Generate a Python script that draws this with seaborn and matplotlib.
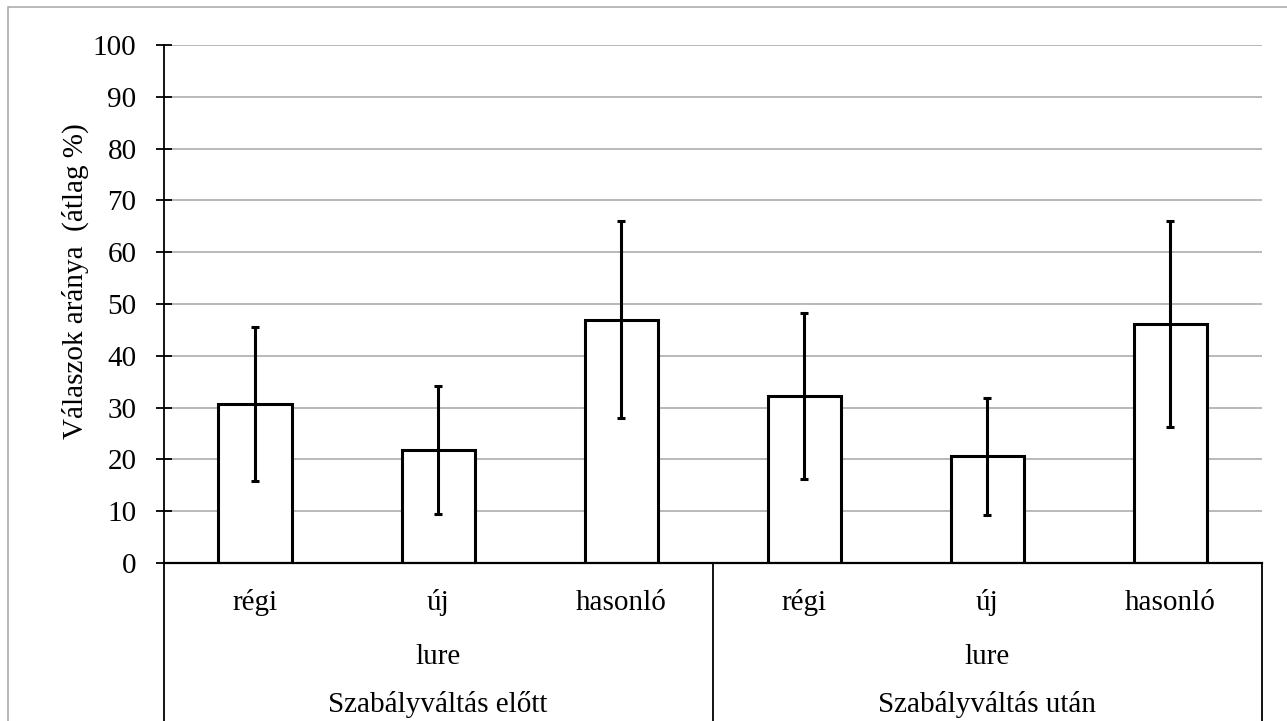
import matplotlib
matplotlib.use("Agg")
import matplotlib.pyplot as plt
import matplotlib.transforms as mtransforms
from matplotlib.patches import Rectangle
import seaborn as sns
import pandas as pd

# Chart data
phases = ["Szabályváltás előtt", "Szabályváltás után"]
lure_types = ["régi", "új", "hasonló"]
group_label = "lure"
means_before = [30.7, 21.8, 47.0]
means_after = [32.2, 20.6, 46.1]
sd_before = [14.8, 12.4, 19.0]
sd_after = [16.0, 11.3, 19.9]
y_label = "Válaszok aránya  (átlag %)"
y_ticks = list(range(0, 101, 10))

rows = []
for phase, means, sds in [(phases[0], means_before, sd_before), (phases[1], means_after, sd_after)]:
    for lure, m, s in zip(lure_types, means, sds):
        rows.append({"phase": phase, "lure": lure, "key": f"{phase} | {lure}", "mean": m, "sd": s})
df = pd.DataFrame(rows)
order = list(df["key"])

sns.set_theme(style="white")
plt.rcParams["font.family"] = ["Liberation Serif", "DejaVu Serif"]

W, H = 1287, 721
fig = plt.figure(figsize=(W / 100, H / 100), dpi=100)
fig.patch.set_facecolor("white")

# Outer frame of the chart area
fig.patches.append(Rectangle((8 / W, -0.2), 1.2, (H - 7) / H + 0.2, transform=fig.transFigure,
                             fill=False, edgecolor="#a6a6a6", linewidth=1.1, zorder=0))

ax_left, ax_right, ax_top, ax_bottom = 163.5, 1262, 45, 563
ax_h_px = ax_bottom - ax_top
ax = fig.add_axes([ax_left / W, (H - ax_bottom) / H, (ax_right - ax_left) / W, ax_h_px / H])

sns.barplot(data=df, x="key", y="mean", order=order, errorbar=None, width=0.4,
            color="white", edgecolor="black", linewidth=2.2, saturation=1, ax=ax, zorder=3)

xpos = list(range(len(order)))
ax.errorbar(xpos, df["mean"], yerr=df["sd"], fmt="none", ecolor="black",
            elinewidth=2.2, capsize=2.9, capthick=2.2, zorder=4)

ax.set_ylim(0, 100)
ax.set_xlim(-0.5, len(order) - 0.5)
ax.set_yticks(y_ticks)
ax.set_yticklabels([str(t) for t in y_ticks])
ax.tick_params(axis="y", direction="inout", length=12.2, width=1.3, pad=13.3,
               labelsize=21, colors="black", left=True)
ax.tick_params(axis="x", length=0, labelbottom=False)
ax.set_xlabel("")
ax.set_ylabel("")
ax.yaxis.grid(True, color="#a6a6a6", linewidth=1.1)
ax.set_axisbelow(True)
for side in ["top", "right"]:
    ax.spines[side].set_visible(False)
ax.spines["left"].set_color("black")
ax.spines["left"].set_linewidth(1.3)
ax.spines["bottom"].set_color("black")
ax.spines["bottom"].set_linewidth(1.6)
ax.spines["bottom"].set_zorder(5)

# Multi-level category axis below the plot
trans = mtransforms.blended_transform_factory(ax.transData, ax.transAxes)
def frac(px):
    return -px / ax_h_px

line_bottom = frac(H - ax_bottom + 5)
for xb in [-0.5, 2.5, len(order) - 0.5]:
    ax.plot([xb, xb], [0, line_bottom], color="black", linewidth=1.3,
            transform=trans, clip_on=False, zorder=5)

for i, row in df.iterrows():
    ax.text(i, frac(610 - ax_bottom), row["lure"], transform=trans, ha="center",
            va="baseline", fontsize=21, color="black")
for g, phase in enumerate(phases):
    center = g * 3 + 1
    ax.text(center, frac(664 - ax_bottom), group_label, transform=trans, ha="center",
            va="baseline", fontsize=21, color="black")
    ax.text(center, frac(712 - ax_bottom), phase, transform=trans, ha="center",
            va="baseline", fontsize=21, color="black")

fig.text(75 / W, 1 - 281 / H, y_label, rotation=90, ha="center", va="center",
         fontsize=21, color="black")

fig.savefig("out.png", dpi=100, facecolor="white")
